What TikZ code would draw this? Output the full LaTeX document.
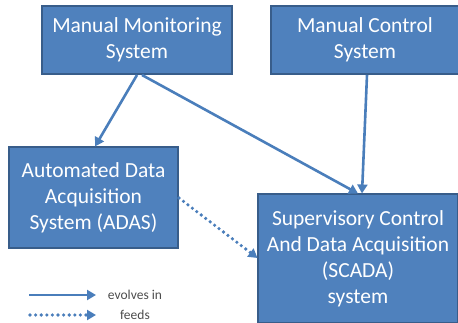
\documentclass[tikz,border=0pt]{standalone}
\usepackage{fontspec}
\setmainfont{Carlito}
\usetikzlibrary{arrows.meta}
\definecolor{boxfill}{HTML}{4F81BD}
\definecolor{boxline}{HTML}{385D8A}
\definecolor{arr}{HTML}{4A7EBB}
\begin{document}
\begin{tikzpicture}[x=1pt,y=-1pt,
  box/.style={draw=boxline,line width=1.2pt,fill=boxfill,text=white,align=center,font=\fontsize{21.5}{26}\selectfont,inner sep=0pt},
  evolve/.style={draw=arr,line width=2.6pt,-{Triangle[length=9pt,width=10pt]}},
  feedsline/.style={draw=arr,line width=3.6pt,line cap=round,dash pattern=on 0pt off 5.6pt,-{Triangle[length=9pt,width=10pt,line cap=butt]}},
  leg/.style={text=black!70,font=\fontsize{13.5}{15}\selectfont}]
\useasboundingbox (0,0) rectangle (458,323);
\node[box,minimum width=190pt,minimum height=68pt] (mm) at (137,40) {Manual Monitoring\\System};
\node[box,minimum width=188pt,minimum height=68pt] (mc) at (365,40) {Manual Control\\System};
\node[box,minimum width=169pt,minimum height=101pt] (adas) at (93.5,197.5) {Automated Data\\Acquisition\\System (ADAS)};
\node[box,minimum width=200pt,minimum height=129pt] (scada) at (358,258.5) {Supervisory Control\\And Data Acquisition\\(SCADA)\\system};
\draw[evolve] (137,75) -- (95,146.5);
\draw[evolve] (142,75) -- (358,193.5);
\draw[evolve] (367,75) -- (362,193.5);
\draw[feedsline] (179,198) -- (257.5,258);
\coordinate (l1a) at (29,295); \coordinate (l1b) at (96,295);
\coordinate (l2a) at (30,315); \coordinate (l2b) at (96,315);
\draw[evolve] (l1a) -- (l1b);
\draw[feedsline] (l2a) -- (l2b);
\node[leg] (t1) at (135,295) {evolves in};
\node[leg] (t2) at (135,315) {feeds};
\end{tikzpicture}
\end{document}
